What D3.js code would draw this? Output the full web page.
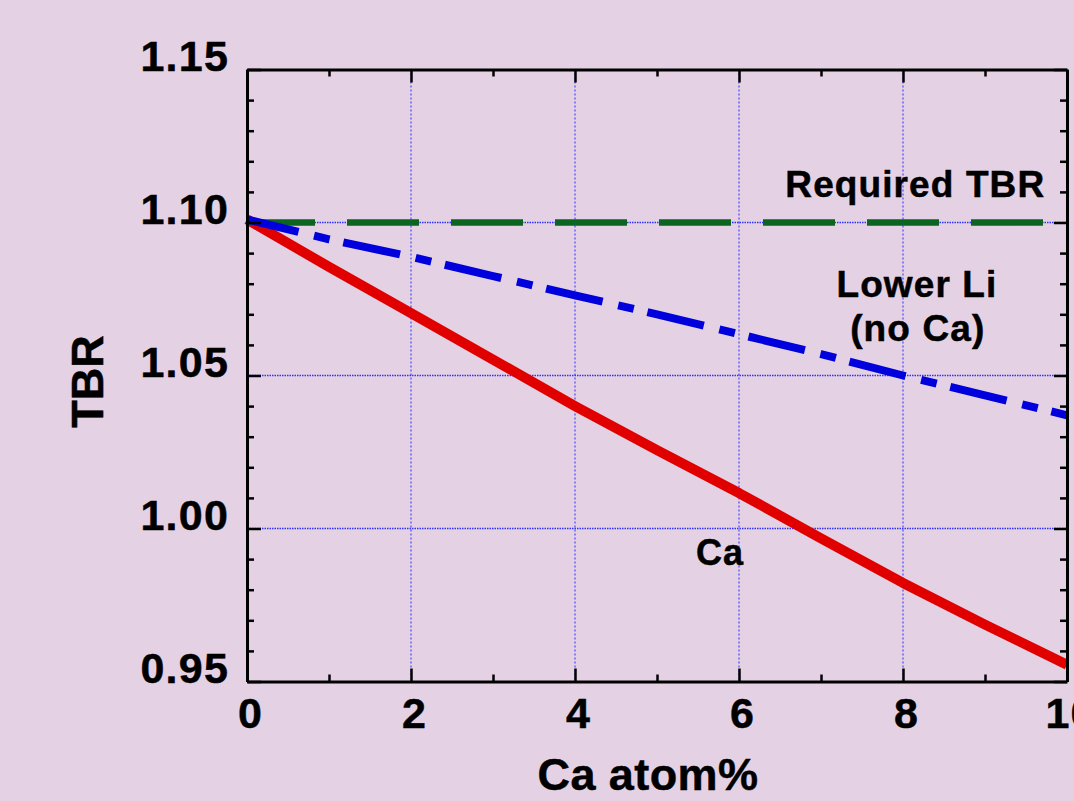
<!DOCTYPE html>
<html>
<head>
<meta charset="utf-8">
<script src="https://cdn.jsdelivr.net/npm/d3@7"></script>
<style>
html,body{margin:0;padding:0;background:#e4d2e4;overflow:hidden;}
text{font-family:"Liberation Sans",Arial,Helvetica,sans-serif;font-weight:bold;fill:#000;stroke:#000;stroke-width:0.5px;}
</style>
</head>
<body>
<svg id="chart" width="1074" height="801"></svg>
<script>
// ---- data ----
const caPct      = [0, 1, 2, 3, 4, 5, 6, 7, 8, 9, 10];
const tbrCa      = [1.101, 1.0855, 1.0704, 1.0552, 1.0400, 1.0256, 1.0116, 0.9968, 0.9822, 0.9686, 0.9555];
const tbrLowerLi = [1.101, 1.0945, 1.0888, 1.0825, 1.0762, 1.0700, 1.0635, 1.0570, 1.0500, 1.0435, 1.0370];
const requiredTBR = [1.10, 1.10];
const requiredX   = [0, 10];
const xMajorTicks = [0, 2, 4, 6, 8, 10];
const xMinorTicks = [1, 3, 5, 7, 9];
const yMajorTicks = [0.95, 1.00, 1.05, 1.10, 1.15];
const yMinorTicks = [0.96, 0.97, 0.98, 0.99, 1.01, 1.02, 1.03, 1.04, 1.06, 1.07, 1.08, 1.09, 1.11, 1.12, 1.13, 1.14];
const xGrid = [2, 4, 6, 8];
const yGrid = [1.00, 1.05, 1.10];
const annotations = [
  {text: "Required TBR", x: 8.15, y: 1.1082, size: 37},
  {text: "Lower Li",     x: 8.17, y: 1.0758, size: 37},
  {text: "(no Ca)",      x: 8.18, y: 1.0614, size: 37},
  {text: "Ca",           x: 5.77, y: 0.9880, size: 36}
];

// ---- layout ----
const svg = d3.select("#chart");
const L = 247, T = 69.5, W = 820, H = 612;
const x = d3.scaleLinear().domain([0, 10]).range([L, L + W]);
const y = d3.scaleLinear().domain([0.95, 1.15]).range([T + H, T]);

svg.append("rect").attr("width", 1074).attr("height", 801).attr("fill", "#e4d2e4");

// grid
const g = svg.append("g");
g.selectAll(".vg").data(xGrid).enter().append("line")
  .attr("x1", d => x(d)).attr("x2", d => x(d)).attr("y1", T).attr("y2", T + H)
  .attr("stroke", "#2a2aff").attr("stroke-width", 1).attr("stroke-dasharray", "2,2");
g.selectAll(".hg").data(yGrid).enter().append("line")
  .attr("x1", L).attr("x2", L + W).attr("y1", d => y(d)).attr("y2", d => y(d))
  .attr("stroke", "#3030ff").attr("stroke-width", 1.4).attr("stroke-dasharray", "1.5,1");

// lines
const line = d3.line().x(d => x(d[0])).y(d => y(d[1]));
svg.append("path").datum(caPct.map((c, i) => [c, tbrCa[i]]))
  .attr("d", line).attr("fill", "none").attr("stroke", "#e00000").attr("stroke-width", 10)
  .attr("stroke-linejoin", "round");
svg.append("path").datum(requiredX.map((c, i) => [c, requiredTBR[i]]))
  .attr("d", line).attr("fill", "none").attr("stroke", "#0b641f").attr("stroke-width", 6.5)
  .attr("stroke-dasharray", "72,32").attr("stroke-dashoffset", 4);
svg.append("path").datum(caPct.map((c, i) => [c, tbrLowerLi[i]]))
  .attr("d", line).attr("fill", "none").attr("stroke", "#0000dd").attr("stroke-width", 8)
  .attr("stroke-dasharray", "58,16,16,14").attr("stroke-dashoffset", 5);

// axes
const axW = 3;
function axis(gen, tr) {
  const a = svg.append("g").attr("transform", tr).call(gen);
  a.select(".domain").attr("stroke", "#000").attr("stroke-width", axW);
  a.selectAll(".tick line").attr("stroke", "#000").attr("stroke-width", 2.5);
  return a;
}
// bottom
const bx = axis(d3.axisBottom(x).tickValues(xMajorTicks).tickSizeInner(-13).tickSizeOuter(0).tickPadding(16).tickFormat(d3.format("d")), `translate(0,${T + H})`);
bx.selectAll("text").attr("font-size", 43).attr("dx", 3).attr("fill", "#000").attr("letter-spacing", 1);
axis(d3.axisBottom(x).tickValues(xMinorTicks).tickSizeInner(-7).tickSizeOuter(0).tickFormat(""), `translate(0,${T + H})`).select(".domain").remove();
// top
axis(d3.axisTop(x).tickValues(xMajorTicks).tickSizeInner(-13).tickSizeOuter(0).tickFormat(""), `translate(0,${T})`);
axis(d3.axisTop(x).tickValues(xMinorTicks).tickSizeInner(-7).tickSizeOuter(0).tickFormat(""), `translate(0,${T})`).select(".domain").remove();
// left
const ly = axis(d3.axisLeft(y).tickValues(yMajorTicks).tickSizeInner(-14).tickSizeOuter(0).tickPadding(18).tickFormat(d3.format(".2f")), `translate(${L},0)`);
ly.selectAll("text").attr("font-size", 43).attr("fill", "#000").attr("letter-spacing", 1.2)
  .attr("dy", null).attr("y", -10).attr("dominant-baseline", "middle");
axis(d3.axisLeft(y).tickValues(yMinorTicks).tickSizeInner(-7).tickSizeOuter(0).tickFormat(""), `translate(${L},0)`).select(".domain").remove();
// right
axis(d3.axisRight(y).tickValues(yMajorTicks).tickSizeInner(-13).tickSizeOuter(0).tickFormat(""), `translate(${L + W},0)`);
axis(d3.axisRight(y).tickValues(yMinorTicks).tickSizeInner(-7).tickSizeOuter(0).tickFormat(""), `translate(${L + W},0)`).select(".domain").remove();

// axis titles
svg.append("text").attr("x", 648).attr("y", 790).attr("text-anchor", "middle")
  .attr("font-size", 45).attr("letter-spacing", 0.4).text("Ca atom%");
svg.append("text").attr("transform", "translate(103,381.5) rotate(-90)").attr("text-anchor", "middle")
  .attr("font-size", 45).text("TBR");

// annotations
svg.selectAll(".ann").data(annotations).enter().append("text")
  .attr("x", d => x(d.x)).attr("y", d => y(d.y)).attr("text-anchor", "middle")
  .attr("font-size", d => d.size).attr("letter-spacing", 1.1).text(d => d.text);
</script>
</body>
</html>
